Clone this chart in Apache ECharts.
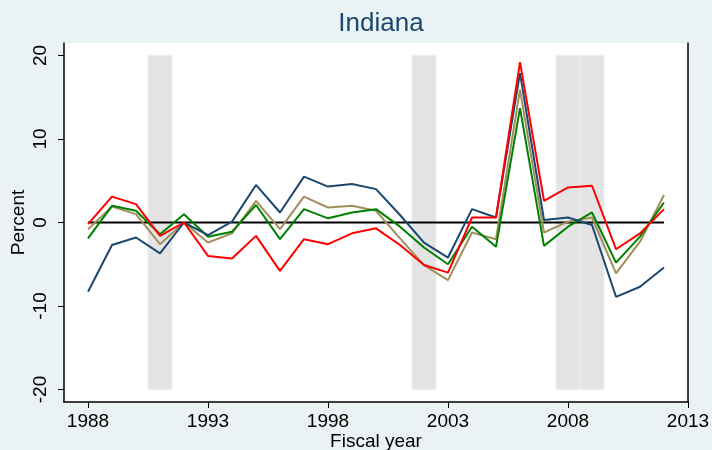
<!DOCTYPE html>
<html>
<head>
<meta charset="utf-8">
<script src="https://cdn.jsdelivr.net/npm/echarts@6/dist/echarts.min.js"></script>
<style>
  html, body { margin: 0; padding: 0; background: #eaf2f3; }
  #chart { width: 712px; height: 450px; }
</style>
</head>
<body>
<div id="chart"></div>
<script>
  // fiscal years and growth rates (percent)
  var years = [1988, 1989, 1990, 1991, 1992, 1993, 1994, 1995, 1996, 1997, 1998, 1999,
    2000, 2001, 2002, 2003, 2004, 2005, 2006, 2007, 2008, 2009, 2010, 2011, 2012]

  var navyVals = [-8.3, -2.7, -1.8, -3.7, 0.0, -1.5, 0.1, 4.5, 1.2, 5.5, 4.3, 4.6,
    4.0, 0.9, -2.4, -4.2, 1.6, 0.6, 17.9, 0.3, 0.6, -0.3, -8.9, -7.7, -5.4]
  var redVals = [-0.2, 3.1, 2.2, -1.6, 0.0, -4.0, -4.3, -1.6, -5.8, -2.0, -2.6, -1.3,
    -0.7, -2.7, -5.1, -6.0, 0.6, 0.6, 19.2, 2.6, 4.2, 4.4, -3.2, -1.3, 1.6]
  var greenVals = [-1.9, 2.0, 1.4, -1.4, 1.0, -1.7, -1.1, 2.1, -2.0, 1.6, 0.5, 1.2,
    1.6, -0.5, -3.0, -5.0, -0.5, -2.9, 13.7, -2.8, -0.5, 1.2, -4.8, -1.7, 2.4]
  var tanVals = [-0.8, 1.9, 1.0, -2.6, 0.0, -2.4, -1.3, 2.6, -0.8, 3.1, 1.8, 2.0,
    1.4, -1.9, -5.1, -6.9, -1.2, -2.0, 15.9, -1.2, 0.1, 0.6, -6.1, -2.3, 3.3]

  // recession bands (fiscal year start, end)
  var recessionStart = [1990.5, 2001.5, 2007.5, 2008.5]
  var recessionEnd = [1991.5, 2002.5, 2008.5, 2009.5]
  var bandLow = -20
  var bandHigh = 20

  var xTicks = [1988, 1993, 1998, 2003, 2008, 2013]
  var yTicks = [-20, -10, 0, 10, 20]

  function pairs(vals) {
    return years.map(function (y, i) { return [y, vals[i]] })
  }

  var bands = recessionStart.map(function (s, i) {
    return [{ coord: [s, bandLow] }, { coord: [recessionEnd[i], bandHigh] }]
  })

  var labelFont = 'Liberation Sans, Arial, sans-serif'

  function lineSeries(name, vals, color) {
    return {
      name: name,
      type: 'line',
      data: pairs(vals),
      symbol: 'none',
      lineStyle: { color: color, width: 2 },
      itemStyle: { color: color },
      animation: false
    }
  }

  var chart = echarts.init(document.getElementById('chart'))
  chart.setOption({
    backgroundColor: '#eaf2f3',
    animation: false,
    title: {
      text: 'Indiana',
      left: 376,
      top: 6,
      textAlign: 'center',
      textStyle: { color: '#1a476f', fontSize: 26, fontWeight: 'normal', fontFamily: labelFont }
    },
    grid: {
      left: 64,
      right: 24,
      top: 43,
      bottom: 48,
      outerBoundsMode: 'none',
      containLabel: false,
      show: true,
      backgroundColor: '#ffffff',
      borderWidth: 0
    },
    xAxis: {
      type: 'value',
      min: 1987,
      max: 2013,
      name: 'Fiscal year',
      nameLocation: 'middle',
      nameGap: 30,
      nameMoveOverlap: false,
      nameTextStyle: { color: '#000', fontSize: 19, fontFamily: labelFont },
      axisLine: { show: true, onZero: false, lineStyle: { color: '#000', width: 1.5 } },
      axisTick: { show: true, length: 6, customValues: xTicks, lineStyle: { color: '#000' } },
      axisLabel: {
        customValues: xTicks,
        margin: 10,
        color: '#000',
        fontSize: 19,
        fontFamily: labelFont,
        formatter: function (v) { return String(v) }
      },
      splitLine: { show: false }
    },
    yAxis: [{
      type: 'value',
      min: -21.5,
      max: 21.5,
      name: 'Percent',
      nameLocation: 'middle',
      nameGap: 36,
      nameMoveOverlap: false,
      nameTextStyle: { color: '#000', fontSize: 19, fontFamily: labelFont },
      axisLine: { show: true, onZero: false, lineStyle: { color: '#000', width: 1.5 } },
      axisTick: { show: true, length: 6, customValues: yTicks, lineStyle: { color: '#000' } },
      axisLabel: { customValues: yTicks, rotate: 90, margin: 14, color: '#000', fontSize: 19, fontFamily: labelFont },
      splitLine: { show: false }
    }, {
      type: 'value',
      position: 'right',
      min: -21.5,
      max: 21.5,
      axisLine: { show: true, onZero: false, lineStyle: { color: '#000', width: 1.5 } },
      axisTick: { show: false },
      axisLabel: { show: false },
      splitLine: { show: false }
    }],
    series: [
      {
        name: 'recession',
        type: 'line',
        data: [],
        markArea: {
          silent: true,
          itemStyle: { color: '#e4e4e4', borderColor: '#eaf0f0', borderWidth: 1 },
          data: bands
        }
      },
      {
        name: 'zero',
        type: 'line',
        data: pairs(years.map(function () { return 0 })),
        symbol: 'none',
        lineStyle: { color: '#000', width: 2 },
        animation: false
      },
      lineSeries('tan', tanVals, '#a08f5c'),
      lineSeries('green', greenVals, '#008000'),
      lineSeries('navy', navyVals, '#1a476f'),
      lineSeries('red', redVals, '#ff0000')
    ]
  })
</script>
</body>
</html>
